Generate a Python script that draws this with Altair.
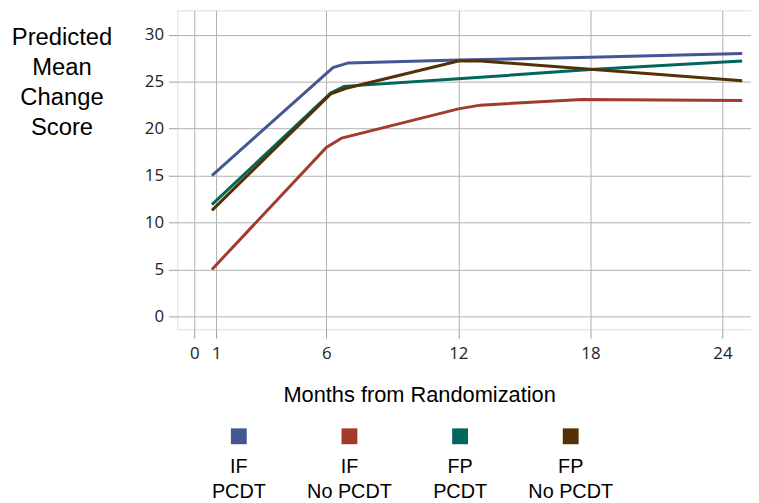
import altair as alt
import pandas as pd

groups = ["IF PCDT", "IF No PCDT", "FP PCDT", "FP No PCDT"]
legend_labels = ["IF\nPCDT", "IF\nNo  PCDT", "FP\nPCDT", "FP\nNo  PCDT"]
colors = ["#445694", "#A23A2E", "#01665E", "#543005"]

if_pcdt_m = [0.8, 6.3, 7.0, 12, 18, 24.9]
if_pcdt_v = [15.0, 26.5, 27.0, 27.3, 27.6, 28.0]
if_nopcdt_m = [0.8, 6.0, 6.7, 12, 13, 17.6, 24.9]
if_nopcdt_v = [5.0, 18.0, 19.0, 22.1, 22.5, 23.1, 23.0]
fp_pcdt_m = [0.8, 6.2, 6.8, 12, 18, 24.9]
fp_pcdt_v = [11.9, 23.8, 24.5, 25.3, 26.3, 27.2]
fp_nopcdt_m = [0.8, 6.2, 6.9, 12, 13, 24.9]
fp_nopcdt_v = [11.3, 23.7, 24.3, 27.2, 27.2, 25.1]

x_ticks = [0, 1, 6, 12, 18, 24]
y_ticks = [0, 5, 10, 15, 20, 25, 30]

rows = []
for g, ms, vs in zip(groups,
                     [if_pcdt_m, if_nopcdt_m, fp_pcdt_m, fp_nopcdt_m],
                     [if_pcdt_v, if_nopcdt_v, fp_pcdt_v, fp_nopcdt_v]):
    for i, (m, v) in enumerate(zip(ms, vs)):
        rows.append({"group": g, "month": m, "score": v, "order": i})
df = pd.DataFrame(rows)
leg = pd.DataFrame({"group": groups, "label": legend_labels})

color = alt.Color("group:N", scale=alt.Scale(domain=groups, range=colors), legend=None)

lines = alt.Chart(df).mark_line(strokeWidth=3).encode(
    x=alt.X("month:Q",
            scale=alt.Scale(domain=[-0.77, 25.3], nice=False, zero=False),
            axis=alt.Axis(values=x_ticks, title="Months from Randomization",
                          titleX=244, titleY=73, titleAlign="center",
                          titleBaseline="alphabetic", titleFont="Liberation Sans",
                          titleFontSize=22, titleFontWeight="normal", titleColor="#000",
                          labelFont="Open Sans", labelFontSize=17, labelColor="#222",
                          labelPadding=7, tickSize=9, tickColor="#a0a0a0",
                          gridColor="#b0b0b0", domain=False, labelFlush=False)),
    y=alt.Y("score:Q",
            scale=alt.Scale(domain=[-1.37, 32.6], nice=False, zero=False),
            axis=alt.Axis(values=y_ticks, title=["Predicted", "Mean", "Change", "Score"],
                          titleAngle=0, titleX=-117, titleY=35, titleAlign="center",
                          titleBaseline="alphabetic", titleLineHeight=30,
                          titleFont="Liberation Sans", titleFontSize=24,
                          titleFontWeight="normal", titleColor="#000",
                          labelFont="Open Sans", labelFontSize=17, labelColor="#222",
                          labelPadding=5, tickSize=9, tickColor="#a0a0a0",
                          gridColor="#b0b0b0", domain=False, labelFlush=False)),
    color=color,
    detail="group:N",
    order="order:Q",
)

legx = alt.X("group:N", scale=alt.Scale(type="point", domain=groups, range=[62, 397], padding=0),
             axis=None)

leg_sq = alt.Chart(leg).mark_square(size=256, opacity=1, filled=True).encode(
    x=legx, y=alt.value(430), color=color)

leg_txt = alt.Chart(leg).mark_text(lineBreak="\n", align="center", baseline="alphabetic",
                                   font="Liberation Sans Narrow, Liberation Sans",
                                   fontSize=20, lineHeight=25, color="#000").encode(
    x=legx, y=alt.value(467), text="label:N")

chart = alt.layer(lines, leg_sq, leg_txt).resolve_scale(x="independent").properties(
    width=579, height=322,
    autosize=alt.AutoSizeParams(type="none"),
    padding={"left": 171, "top": 0, "right": 0, "bottom": 172},
).configure_view(stroke="#999999", strokeWidth=1.5).configure(background="white")

chart.save("out.html", embed_options={"renderer": "svg", "actions": False})
